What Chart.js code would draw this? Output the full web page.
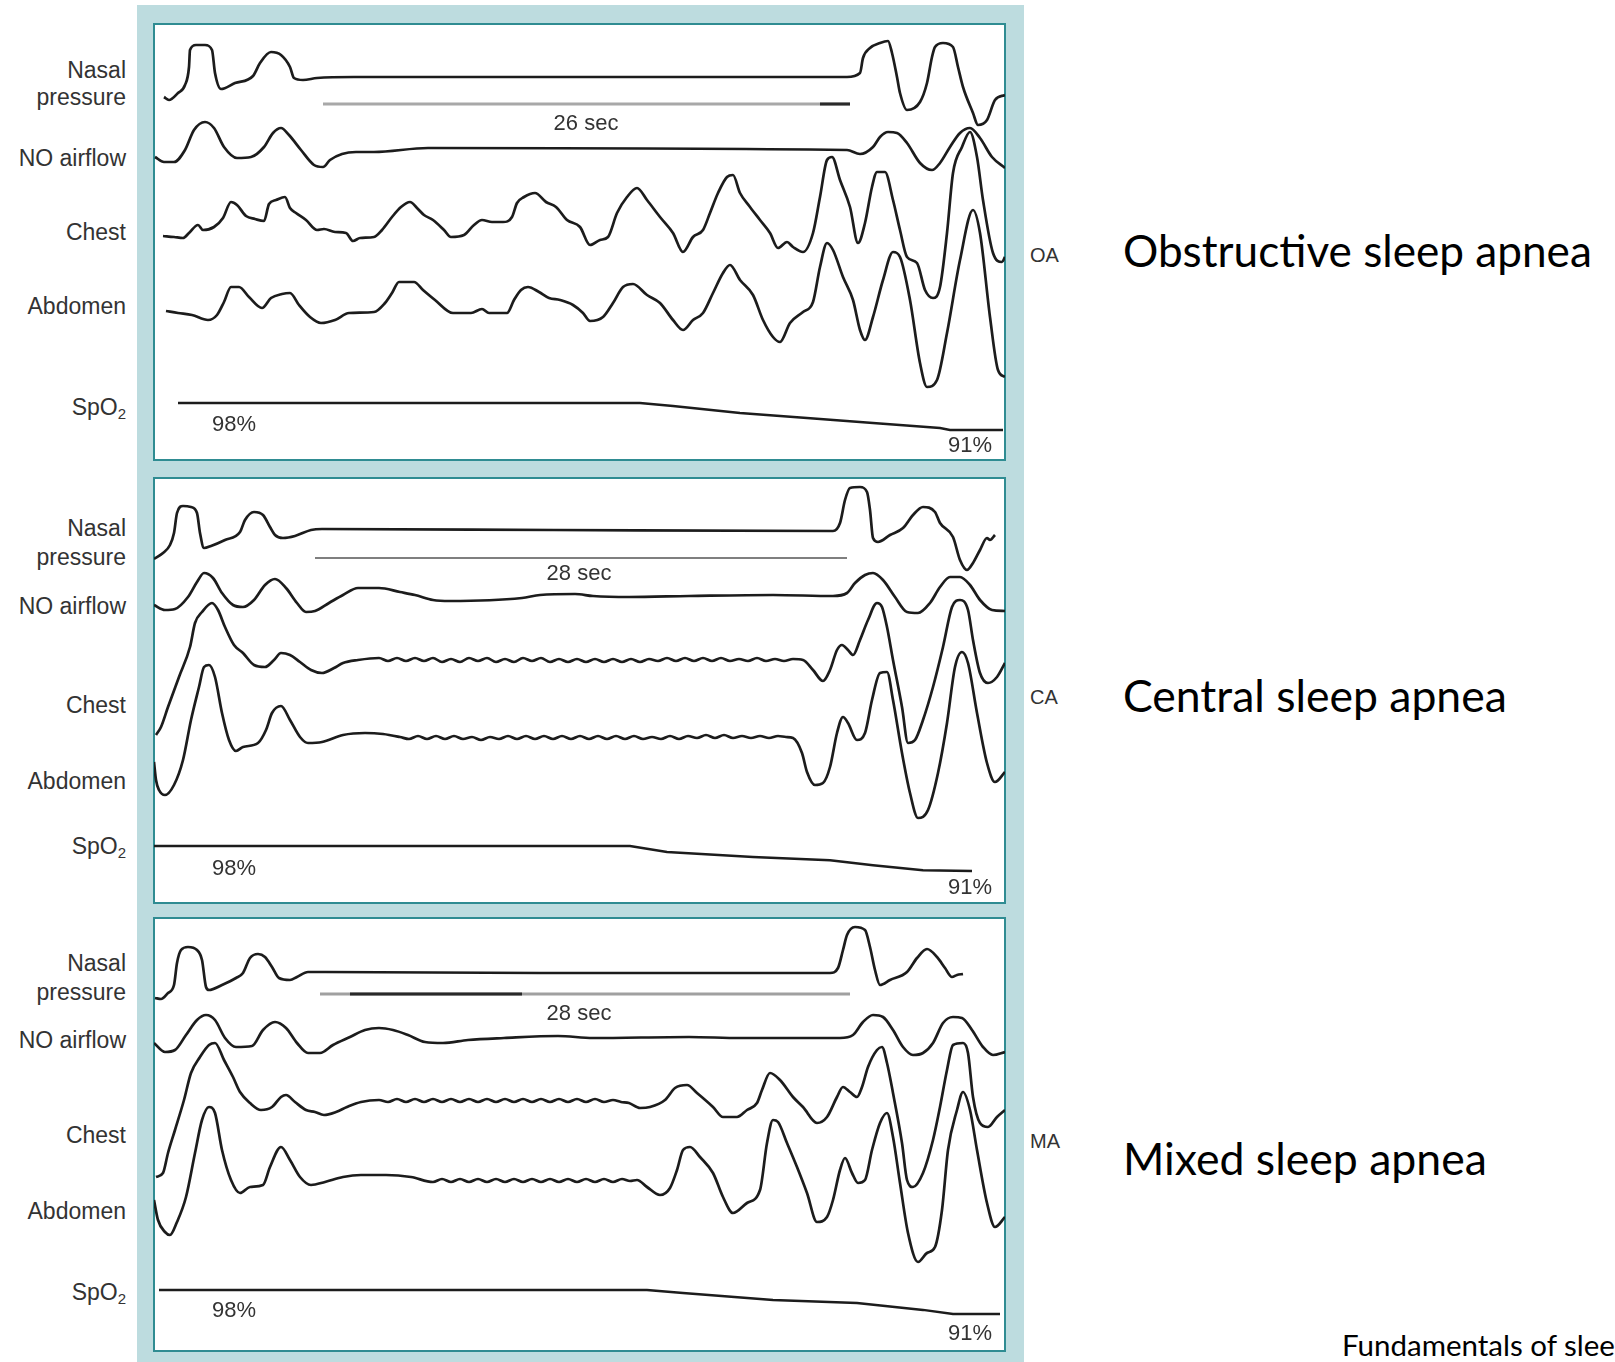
<!DOCTYPE html>
<html><head><meta charset="utf-8">
<script src="https://cdn.jsdelivr.net/npm/chart.js@4.4.1/dist/chart.umd.min.js"></script>
<style>
html,body{margin:0;padding:0;width:1615px;height:1362px;overflow:hidden;background:#fff;}
body{position:relative;font-family:"Liberation Sans",Arial,sans-serif;}
#frame{position:absolute;left:137px;top:5px;width:887px;height:1357px;background:#bddcdf;}
.panel{position:absolute;left:153px;width:853px;box-sizing:border-box;background:#fff;border:2px solid #2f8c92;}
canvas.trace{position:absolute;left:154px;}
.lbl{position:absolute;right:1489px;color:#333;font-size:23px;line-height:1;white-space:nowrap;text-align:right;transform:translateY(-50%);}
.lbl sub{font-size:15px;vertical-align:-4px;line-height:0;}
.txt{position:absolute;color:#333;font-size:22px;line-height:1;white-space:nowrap;transform:translate(-50%,-50%);}
.tag{position:absolute;left:1030px;color:#333;font-size:20px;line-height:1;transform:translateY(-50%);}
.big{position:absolute;left:1123px;color:#000;font-family:Lato,"Open Sans",sans-serif;line-height:1;white-space:nowrap;transform:translateY(-50%);}
#src{position:absolute;left:1342px;top:1345px;color:#000;font-family:Lato,"Open Sans",sans-serif;line-height:1;white-space:nowrap;transform:translateY(-50%);}
#meas{position:absolute;left:0;top:0;visibility:hidden;font-family:Lato,"Open Sans",sans-serif;white-space:nowrap;}
</style></head>
<body>
<div id="frame"></div>
<div class="panel" style="top:23px;height:438px"></div>
<div class="panel" style="top:477px;height:427px"></div>
<div class="panel" style="top:917px;height:435px"></div>

<canvas id="c0" class="trace" width="851" height="437" style="top:24px"></canvas>
<canvas id="c1" class="trace" width="851" height="425" style="top:478px"></canvas>
<canvas id="c2" class="trace" width="851" height="433" style="top:918px"></canvas>

<!-- panel 1 labels -->
<div class="lbl" style="top:70px">Nasal</div>
<div class="lbl" style="top:97px">pressure</div>
<div class="lbl" style="top:158px">NO airflow</div>
<div class="lbl" style="top:232px">Chest</div>
<div class="lbl" style="top:306px">Abdomen</div>
<div class="lbl" style="top:407px">SpO<sub>2</sub></div>
<!-- panel 2 labels -->
<div class="lbl" style="top:528px">Nasal</div>
<div class="lbl" style="top:557px">pressure</div>
<div class="lbl" style="top:606px">NO airflow</div>
<div class="lbl" style="top:705px">Chest</div>
<div class="lbl" style="top:781px">Abdomen</div>
<div class="lbl" style="top:846px">SpO<sub>2</sub></div>
<!-- panel 3 labels -->
<div class="lbl" style="top:963px">Nasal</div>
<div class="lbl" style="top:992px">pressure</div>
<div class="lbl" style="top:1040px">NO airflow</div>
<div class="lbl" style="top:1135px">Chest</div>
<div class="lbl" style="top:1211px">Abdomen</div>
<div class="lbl" style="top:1292px">SpO<sub>2</sub></div>

<div class="txt" style="left:586px;top:123px">26 sec</div>
<div class="txt" style="left:579px;top:573px">28 sec</div>
<div class="txt" style="left:579px;top:1013px">28 sec</div>
<div class="txt" style="left:234px;top:424px">98%</div>
<div class="txt" style="left:970px;top:445px">91%</div>
<div class="txt" style="left:234px;top:868px">98%</div>
<div class="txt" style="left:970px;top:887px">91%</div>
<div class="txt" style="left:234px;top:1310px">98%</div>
<div class="txt" style="left:970px;top:1333px">91%</div>

<div class="tag" style="top:255px">OA</div>
<div class="tag" style="top:697px">CA</div>
<div class="tag" style="top:1141px">MA</div>

<div class="big" id="b0" data-w="469" style="top:250px">Obstructive sleep apnea</div>
<div class="big" id="b1" data-w="384" style="top:695px">Central sleep apnea</div>
<div class="big" id="b2" data-w="364" style="top:1158px">Mixed sleep apnea</div>
<div id="src">Fundamentals of sleep medicine</div>
<span id="meas">Fundamentals of slee</span>

<script>
// ---------- DATA ----------
// x: sample index (≈20 samples per second), y: signal amplitude (arbitrary units, rest level = 0)
// SpO2 in percent. Apnea event = [start, end] sample.

// Obstructive apnea (OA)
const oaNasal = [[10,-20],[15,-23],[24,-16],[31,-8],[35,10],[36,27],[42,32],[51,32],[58,27],[61,4],[67,-12],[81,-6],[99,1],[106,14],[117,25],[127,22],[136,10],[140,-1],[149,-3],[163,-1],[200,0],[693,0],[706,4],[709,19],[716,29],[726,34],[734,36],[738,24],[743,0],[746,-16],[753,-33],[766,-25],[773,-6],[778,20],[781,30],[789,34],[799,30],[804,10],[809,-10],[819,-36],[824,-48],[833,-43],[841,-23],[851,-18]];
const oaAirflow = [[1,-7],[10,-12],[20,-12],[31,0],[40,20],[51,28],[60,22],[70,3],[83,-8],[97,-7],[110,3],[119,17],[127,22],[135,15],[147,0],[160,-15],[169,-17],[176,-10],[188,-4],[202,-2],[220,-2],[274,2],[693,0],[706,-4],[719,3],[726,13],[734,18],[743,17],[753,7],[766,-13],[778,-20],[786,-13],[796,3],[806,17],[816,22],[826,12],[838,-7],[851,-18]];
const oaChest = [[9,-6],[20,-7],[29,-8],[35,-3],[44,5],[49,0],[60,3],[69,12],[77,28],[83,25],[92,14],[101,11],[110,9],[115,26],[122,30],[131,33],[136,22],[142,17],[152,10],[163,0],[170,1],[181,-2],[192,-3],[199,-11],[206,-8],[220,-7],[228,0],[238,13],[247,23],[256,28],[263,22],[270,15],[279,10],[290,0],[297,-7],[310,-5],[320,5],[328,10],[338,8],[349,8],[358,13],[363,27],[370,33],[381,37],[392,28],[402,23],[413,10],[426,3],[436,-15],[446,-10],[454,-7],[463,17],[473,33],[483,42],[493,30],[506,13],[519,-3],[529,-22],[539,-7],[549,0],[556,17],[564,37],[573,53],[579,55],[586,37],[596,23],[606,10],[616,-3],[624,-18],[633,-12],[639,-17],[649,-22],[659,-3],[666,33],[673,70],[678,73],[686,50],[696,23],[704,-13],[711,7],[718,43],[723,58],[731,58],[739,30],[746,0],[753,-27],[763,-33],[771,-60],[779,-68],[786,-57],[793,-3],[799,57],[808,83],[816,98],[823,73],[829,30],[839,-23],[848,-32],[851,-27]];
const oaAbdomen = [[12,-1],[24,-3],[38,-5],[54,-10],[63,-5],[70,8],[77,23],[85,23],[95,13],[108,2],[117,12],[128,16],[136,17],[145,5],[156,-7],[167,-13],[181,-10],[195,-3],[220,-2],[231,7],[238,17],[245,28],[260,28],[269,20],[281,10],[299,-3],[317,-3],[328,1],[335,-3],[353,-3],[360,10],[367,20],[374,23],[385,18],[395,12],[406,10],[419,5],[429,-3],[436,-11],[449,-7],[459,7],[469,23],[479,26],[493,15],[506,7],[519,-10],[529,-20],[539,-10],[549,-3],[559,17],[569,37],[576,45],[586,30],[599,15],[609,-10],[619,-27],[626,-32],[636,-13],[649,-2],[659,8],[666,43],[673,67],[679,60],[689,33],[699,10],[706,-20],[711,-30],[719,-7],[729,30],[739,58],[746,53],[756,10],[766,-53],[773,-77],[783,-70],[793,-23],[806,50],[819,100],[826,77],[836,-7],[844,-60],[851,-67]];
const oaSpO2 = [[24,98],[486,98],[519,97.2],[586,95.4],[653,94.1],[719,92.8],[786,91.5],[796,91],[849,91]];
const oaEvent = [169,696];
const oaEventMark = [666,696];

// Central apnea (CA)
const caNasal = [[0,-29],[9,-23],[16,-15],[20,-3],[23,17],[29,24],[37,23],[43,17],[46,-3],[50,-18],[57,-16],[71,-10],[86,-2],[91,10],[100,18],[109,15],[116,3],[121,-5],[129,-8],[141,-6],[157,0],[168,1],[400,0],[679,-1],[686,7],[691,30],[696,42],[706,43],[713,38],[716,20],[719,-8],[724,-12],[736,-5],[749,2],[759,15],[769,23],[781,18],[786,7],[799,-7],[806,-30],[813,-40],[819,-33],[826,-20],[833,-8],[836,-10],[841,-5]];
const caAirflow = [[0,-9],[11,-14],[21,-13],[34,-1],[43,14],[50,23],[59,18],[68,3],[79,-9],[89,-11],[100,-4],[111,11],[121,17],[132,8],[143,-7],[152,-16],[161,-15],[175,-7],[189,1],[204,8],[225,8],[246,4],[261,1],[279,-4],[296,-5],[368,-2],[386,1],[421,2],[439,0],[475,-1],[535,0],[619,1],[679,0],[693,3],[701,13],[711,21],[719,23],[729,16],[741,-1],[753,-16],[764,-17],[776,-7],[786,9],[796,19],[806,19],[816,11],[826,-4],[838,-14],[851,-15]];
const caChest = [[2,-75],[7,-67],[14,-47],[25,-17],[36,13],[41,37],[48,48],[58,57],[64,50],[71,33],[80,15],[89,7],[100,-5],[111,-7],[120,0],[127,7],[136,5],[146,-2],[157,-10],[168,-13],[180,-8],[189,-3],[204,0],[225,2],[234,-1],[243,2],[252,-1],[261,2],[270,-1],[279,2],[288,-2],[297,1],[306,-2],[315,2],[324,-1],[333,2],[342,-2],[351,1],[360,-2],[369,2],[378,-1],[387,2],[396,-2],[405,1],[414,-2],[423,1],[432,-2],[441,1],[450,-2],[459,1],[468,-2],[477,1],[486,-2],[495,1],[504,-1],[513,2],[522,-1],[531,2],[540,-1],[549,2],[558,-1],[567,2],[576,-1],[585,1],[594,-1],[603,2],[612,-1],[621,1],[630,-1],[639,1],[649,0],[659,-10],[669,-21],[676,-10],[683,10],[688,15],[694,10],[699,5],[706,20],[714,40],[723,57],[728,53],[733,33],[739,0],[748,-47],[754,-83],[761,-80],[769,-60],[779,-27],[789,13],[798,53],[806,60],[814,50],[819,20],[826,-13],[834,-23],[843,-17],[851,-3]];
const caAbdomen = [[0,-25],[2,-43],[5,-53],[11,-58],[20,-48],[29,-23],[37,17],[45,50],[50,70],[55,72],[61,60],[68,24],[75,-3],[82,-14],[89,-10],[104,-6],[112,7],[118,24],[127,31],[136,17],[146,0],[154,-6],[168,-5],[189,2],[211,4],[229,3],[246,0],[255,-2],[264,1],[273,-2],[282,1],[291,-2],[300,1],[309,-2],[318,0],[327,-3],[336,0],[345,-2],[354,1],[363,-2],[372,1],[381,-2],[390,1],[399,-2],[408,1],[417,-2],[426,1],[435,-2],[444,1],[453,-2],[462,1],[471,-2],[480,1],[489,-2],[498,0],[507,-2],[516,1],[525,-2],[534,1],[543,-1],[552,2],[561,-1],[570,2],[579,-1],[588,1],[597,-1],[606,1],[615,-1],[624,1],[632,0],[639,-1],[648,-16],[653,-35],[661,-48],[669,-46],[676,-30],[683,4],[689,20],[694,14],[703,-3],[711,4],[718,37],[726,64],[733,65],[739,37],[748,-16],[756,-56],[764,-81],[774,-73],[784,-36],[793,14],[801,70],[808,85],[814,74],[823,24],[833,-26],[841,-45],[851,-35]];
const caSpO2 = [[0,98],[476,98],[513,96.3],[599,94.9],[676,94.0],[719,92.6],[769,91.2],[818,91]];
const caEvent = [161,693];
const caEventMark = [];

// Mixed apnea (MA)
const maNasal = [[1,-26],[7,-27],[14,-21],[20,-13],[23,9],[27,22],[34,25],[43,22],[48,12],[52,-15],[55,-18],[68,-13],[82,-6],[89,-1],[96,14],[104,18],[111,15],[118,5],[125,-6],[136,-8],[143,-5],[154,0],[171,0],[386,-1],[676,-1],[684,4],[689,22],[693,37],[701,45],[711,42],[716,25],[721,2],[726,-13],[736,-8],[753,0],[763,14],[773,23],[783,15],[791,4],[798,-5],[803,-3],[809,-2]];
const maAirflow = [[0,-5],[11,-14],[21,-12],[32,3],[43,18],[52,23],[61,18],[71,0],[82,-9],[98,-8],[109,8],[121,16],[132,10],[143,-5],[154,-15],[166,-15],[179,-7],[196,1],[211,8],[225,10],[239,8],[254,3],[271,-4],[289,-5],[314,-2],[350,0],[404,2],[439,0],[535,1],[586,0],[686,0],[699,3],[709,16],[719,23],[729,21],[739,8],[749,-9],[759,-17],[769,-15],[779,-5],[789,15],[799,21],[808,20],[818,8],[829,-9],[839,-17],[851,-14]];
const maChest = [[2,-77],[9,-73],[14,-53],[21,-30],[30,0],[37,27],[46,43],[55,55],[61,57],[70,40],[79,23],[86,8],[96,-3],[107,-10],[118,-7],[127,3],[132,5],[141,-2],[152,-10],[161,-12],[170,-15],[182,-12],[193,-7],[207,-2],[225,0],[234,-2],[243,1],[252,-2],[261,1],[270,-2],[279,1],[288,-2],[297,1],[306,-2],[315,1],[324,-2],[333,1],[342,-2],[351,1],[360,-2],[369,1],[378,-2],[387,1],[396,-2],[405,1],[414,-2],[423,1],[432,-2],[441,1],[450,-2],[459,0],[467,-2],[475,-3],[486,-8],[496,-7],[511,0],[521,12],[533,15],[543,7],[559,-7],[569,-17],[583,-17],[593,-10],[603,-3],[608,10],[616,27],[626,20],[639,3],[649,-7],[663,-23],[673,-17],[683,3],[689,13],[696,8],[703,3],[708,13],[714,33],[723,50],[728,53],[733,37],[739,7],[748,-43],[753,-80],[759,-87],[769,-73],[779,-40],[786,-7],[793,30],[799,55],[809,57],[814,47],[819,3],[826,-23],[834,-27],[843,-17],[851,-10]];
const maAbdomen = [[0,-20],[4,-40],[11,-52],[16,-55],[23,-42],[32,-17],[41,27],[48,60],[55,73],[61,67],[68,30],[77,0],[86,-13],[96,-7],[109,-5],[116,13],[127,33],[136,20],[146,3],[157,-5],[171,-2],[189,3],[207,5],[232,5],[257,3],[279,-2],[288,1],[297,-2],[306,1],[315,-2],[324,1],[333,-2],[342,1],[351,-2],[360,1],[369,-2],[378,1],[387,-2],[396,1],[405,-2],[414,1],[423,-2],[432,1],[441,-2],[450,1],[459,-2],[468,1],[476,-1],[483,0],[493,-7],[506,-15],[516,-8],[523,10],[529,30],[536,33],[546,23],[559,7],[569,-17],[579,-33],[593,-23],[606,-10],[613,37],[619,60],[624,58],[633,37],[643,13],[653,-13],[663,-42],[673,-37],[679,-20],[686,10],[691,22],[698,7],[704,-3],[711,0],[718,30],[726,57],[733,67],[739,43],[746,-3],[754,-53],[764,-82],[773,-73],[781,-67],[788,-30],[794,30],[803,70],[809,88],[816,70],[823,30],[833,-23],[841,-47],[851,-37]];
const maSpO2 = [[5,98],[493,98],[529,97.1],[619,95.1],[703,94.2],[769,92.2],[799,91],[846,91]];
const maEvent = [166,696];
const maEventMark = [196,368];

// ---------- LAYOUT (page pixels) ----------
const panelSpecs = [
  {id:'c0', top:24, height:437, rest:[77,150,230,310], spo2:[98,403,91,430], eventY:104,
   traces:[oaNasal,oaAirflow,oaChest,oaAbdomen], sat:oaSpO2, event:oaEvent, mark:oaEventMark,
   eventStyle:{color:'#a8a8a8',width:3}},
  {id:'c1', top:478, height:425, rest:[530,596,660,737], spo2:[98,846,91,871], eventY:558,
   traces:[caNasal,caAirflow,caChest,caAbdomen], sat:caSpO2, event:caEvent, mark:caEventMark,
   eventStyle:{color:'#555',width:1.5}},
  {id:'c2', top:918, height:433, rest:[972,1038,1100,1180], spo2:[98,1290,91,1314], eventY:994,
   traces:[maNasal,maAirflow,maChest,maAbdomen], sat:maSpO2, event:maEvent, mark:maEventMark,
   eventStyle:{color:'#a0a0a0',width:3}}
];

const toXY = arr => arr.map(p => ({x:p[0], y:p[1]}));
const lineColor = '#1c1c1c';

panelSpecs.forEach(spec => {
  const H = spec.height;
  const scales = { x:{type:'linear', min:0, max:851, display:false} };
  const datasets = [];
  spec.traces.forEach((tr, i) => {
    const id = 'y'+i;
    const max = spec.rest[i] - spec.top;
    scales[id] = {type:'linear', display:false, min:max - H, max:max};
    datasets.push({data:toXY(tr), yAxisID:id, borderColor:lineColor, borderWidth:2.7,
      cubicInterpolationMode:'monotone', pointRadius:0, showLine:true, fill:false, order:1});
  });
  // SpO2 axis
  const [v1,p1,v2,p2] = spec.spo2;
  const s = (p2 - p1) / (v1 - v2);
  const smax = v1 + (p1 - spec.top) / s;
  scales.ys = {type:'linear', display:false, min:smax - H / s, max:smax};
  datasets.push({data:toXY(spec.sat), yAxisID:'ys', borderColor:lineColor, borderWidth:2.5,
    tension:0, pointRadius:0, showLine:true, fill:false, order:1});
  // apnea event bar
  const emax = spec.eventY - spec.top;
  scales.ye = {type:'linear', display:false, min:emax - H, max:emax};
  datasets.push({data:[{x:spec.event[0], y:0},{x:spec.event[1], y:0}], yAxisID:'ye',
    borderColor:spec.eventStyle.color, borderWidth:spec.eventStyle.width, pointRadius:0, showLine:true, tension:0, order:2});
  if (spec.mark.length) {
    datasets.push({data:[{x:spec.mark[0], y:0},{x:spec.mark[1], y:0}], yAxisID:'ye',
      borderColor:'#2a2a2a', borderWidth:spec.eventStyle.width, pointRadius:0, showLine:true, tension:0, order:0});
  }

  new Chart(document.getElementById(spec.id), {
    type:'scatter',
    data:{datasets},
    options:{
      responsive:false, animation:false, devicePixelRatio:1, events:[],
      layout:{padding:0},
      plugins:{legend:{display:false}, tooltip:{enabled:false}},
      scales
    }
  });
});

// fit big captions to their widths in the original
document.querySelectorAll('.big').forEach(el => {
  el.style.fontSize = '100px';
  const w = el.getBoundingClientRect().width;
  el.style.fontSize = (100 * (+el.dataset.w) / w) + 'px';
});
const meas = document.getElementById('meas');
meas.style.fontSize = '100px';
const mw = meas.getBoundingClientRect().width;
document.getElementById('src').style.fontSize = (100 * 273 / mw) + 'px';
</script>
</body></html>
